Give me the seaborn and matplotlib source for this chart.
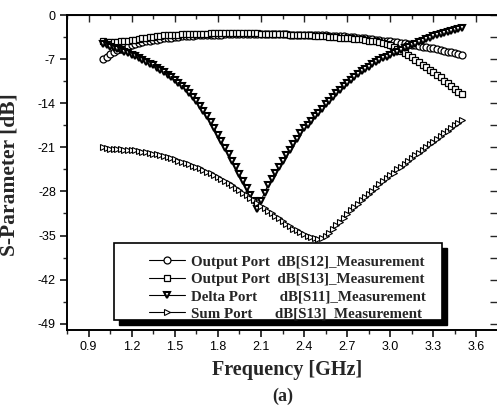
import numpy as np
import pandas as pd
import matplotlib
matplotlib.use("Agg")
import matplotlib.pyplot as plt
from matplotlib.patches import Rectangle
from matplotlib.ticker import MultipleLocator
import seaborn as sns

# frequency sweep of the measurement, 1.0 .. 3.5 GHz, 101 points
f_start, f_stop, n_pts = 1.0, 3.5, 101
freq = np.linspace(f_start, f_stop, n_pts)

# Output Port dB[S12]
s12_out = [-7.0, -6.6, -6.2, -5.9, -5.6, -5.35, -5.1, -4.9, -4.7, -4.55,
           -4.4, -4.3, -4.2, -4.1, -4.0, -3.9, -3.8, -3.7, -3.65, -3.6,
           -3.5, -3.45, -3.4, -3.35, -3.3, -3.3, -3.25, -3.2, -3.2, -3.15,
           -3.15, -3.1, -3.1, -3.1, -3.05, -3.05, -3.0, -3.0, -3.0, -3.0,
           -3.0, -3.0, -3.0, -3.0, -3.0, -3.0, -3.0, -3.0, -3.0, -3.05,
           -3.05, -3.05, -3.1, -3.1, -3.1, -3.1, -3.1, -3.15, -3.15, -3.2,
           -3.2, -3.25, -3.25, -3.3, -3.3, -3.35, -3.4, -3.4, -3.45, -3.5,
           -3.55, -3.6, -3.65, -3.7, -3.8, -3.85, -3.9, -4.0, -4.1, -4.15,
           -4.2, -4.3, -4.35, -4.45, -4.5, -4.6, -4.7, -4.8, -4.9, -5.0,
           -5.1, -5.2, -5.3, -5.4, -5.55, -5.65, -5.8, -5.9, -6.05, -6.15,
           -6.3]

# Output Port dB[S13]
s13_out = [-4.2, -4.3, -4.35, -4.3, -4.3, -4.2, -4.15, -4.1, -4.0, -3.9,
           -3.8, -3.7, -3.6, -3.5, -3.45, -3.4, -3.3, -3.25, -3.2, -3.15,
           -3.1, -3.1, -3.05, -3.05, -3.0, -3.0, -3.0, -2.95, -2.95, -2.95,
           -2.9, -2.9, -2.9, -2.9, -2.9, -2.9, -2.9, -2.9, -2.9, -2.9,
           -2.9, -2.9, -2.9, -2.9, -2.95, -2.95, -2.95, -3.0, -3.0, -3.0,
           -3.05, -3.05, -3.1, -3.1, -3.15, -3.15, -3.2, -3.2, -3.25, -3.3,
           -3.3, -3.35, -3.4, -3.45, -3.5, -3.55, -3.6, -3.65, -3.7, -3.72,
           -3.75, -3.8, -3.85, -3.95, -4.05, -4.1, -4.2, -4.35, -4.5, -4.65,
           -4.8, -5.1, -5.4, -5.7, -6.0, -6.35, -6.7, -7.1, -7.5, -7.9,
           -8.3, -8.7, -9.1, -9.5, -9.9, -10.4, -10.8, -11.3, -11.7, -12.2,
           -12.6]

# Delta Port dB[S11]
s11_delta = [-4.6, -4.8, -5.0, -5.2, -5.4, -5.6, -5.8, -6.05, -6.3, -6.55,
             -6.8, -7.1, -7.4, -7.7, -8.0, -8.35, -8.7, -9.1, -9.5, -9.9,
             -10.3, -10.8, -11.3, -11.8, -12.4, -13.0, -13.7, -14.4, -15.2, -16.1,
             -17.0, -18.0, -19.0, -20.0, -21.1, -22.1, -23.2, -24.2, -25.3, -26.3,
             -27.4, -28.5, -29.6, -30.8, -29.5, -28.2, -27.0, -26.0, -25.0, -24.1,
             -23.2, -22.3, -21.4, -20.5, -19.7, -18.8, -18.0, -17.4, -16.8, -16.1,
             -15.5, -14.9, -14.2, -13.6, -13.0, -12.4, -11.9, -11.3, -10.8, -10.3,
             -9.8, -9.4, -8.9, -8.5, -8.2, -7.8, -7.5, -7.2, -6.9, -6.6,
             -6.4, -6.1, -5.8, -5.6, -5.3, -5.05, -4.8, -4.55, -4.3, -4.1,
             -3.85, -3.6, -3.4, -3.2, -3.0, -2.85, -2.7, -2.55, -2.4, -2.25,
             -2.1]

# Sum Port dB[S13]
s13_sum = [-21.0, -21.1, -21.2, -21.2, -21.3, -21.3, -21.4, -21.4, -21.5, -21.5,
           -21.6, -21.7, -21.8, -21.9, -22.0, -22.1, -22.25, -22.4, -22.55, -22.75,
           -22.9, -23.1, -23.3, -23.5, -23.7, -23.9, -24.1, -24.3, -24.6, -24.9,
           -25.1, -25.4, -25.7, -26.0, -26.3, -26.7, -27.0, -27.4, -27.8, -28.2,
           -28.6, -29.0, -29.4, -29.8, -30.3, -30.7, -31.1, -31.5, -31.9, -32.3,
           -32.7, -33.1, -33.5, -33.9, -34.2, -34.5, -34.8, -35.1, -35.3, -35.45,
           -35.5, -35.4, -35.1, -34.6, -34.0, -33.4, -32.8, -32.2, -31.6, -31.0,
           -30.5, -30.0, -29.4, -28.9, -28.4, -27.9, -27.4, -26.9, -26.4, -25.9,
           -25.4, -25.0, -24.5, -24.1, -23.6, -23.2, -22.7, -22.3, -21.9, -21.5,
           -20.9, -20.5, -20.1, -19.7, -19.2, -18.8, -18.4, -17.9, -17.5, -17.1,
           -16.7]

labels = ["Output Port  dB[S12]_Measurement",
          "Output Port  dB[S13]_Measurement",
          "Delta Port      dB[S11]_Measurement",
          "Sum Port      dB[S13]_Measurement"]
x_ticks = [0.9, 1.2, 1.5, 1.8, 2.1, 2.4, 2.7, 3.0, 3.3, 3.6]
y_ticks = [0, -7, -14, -21, -28, -35, -42, -49]

df = pd.DataFrame({"freq": freq, "s12_out": s12_out, "s13_out": s13_out,
                   "s11_delta": s11_delta, "s13_sum": s13_sum})

sns.set_style("ticks")
plt.rcParams["font.family"] = ["Liberation Sans", "DejaVu Sans"]
serif = ["Liberation Serif", "DejaVu Serif"]

W, H = 497, 419
fig = plt.figure(figsize=(W / 100, H / 100), dpi=100)
L, R, T, B = 67, 498, 15, 330
ax = fig.add_axes([L / W, 1 - B / H, (R - L) / W, (B - T) / H])

styles = [("s12_out", "o", 0.9), ("s13_out", "s", 0.9),
          ("s11_delta", "v", 1.5), ("s13_sum", ">", 0.8)]
for (col, mk, mew), lab in zip(styles, labels):
    sns.lineplot(data=df, x="freq", y=col, ax=ax, color="black", lw=0.8,
                 marker=mk, markersize=5, markerfacecolor="white",
                 markeredgecolor="black", markeredgewidth=mew, label=lab,
                 zorder=2)

ax.set_xlim(0.75, 3.75)
ax.set_ylim(-50, 0)
ax.set_xticks(x_ticks)
ax.set_xticklabels([f"{v:.1f}" for v in x_ticks])
ax.set_yticks(y_ticks)
ax.set_yticklabels([str(v) for v in y_ticks])
ax.xaxis.set_minor_locator(MultipleLocator(0.15))
ax.yaxis.set_minor_locator(MultipleLocator(3.5))
ax.tick_params(which="major", direction="out", length=5, width=1.1,
               labelsize=9, pad=3, colors="black")
ax.tick_params(which="minor", direction="out", length=3, width=1.0)
for sp in ax.spines.values():
    sp.set_linewidth(1.4)
    sp.set_color("black")

# inward ticks on top and right like the original Origin plot
top = ax.secondary_xaxis("top")
top.set_xticks(x_ticks)
top.xaxis.set_minor_locator(MultipleLocator(0.15))
top.tick_params(which="both", direction="in", labeltop=False, width=1.0)
top.tick_params(which="major", length=5)
top.tick_params(which="minor", length=3)
right = ax.secondary_yaxis("right")
right.set_yticks(y_ticks)
right.yaxis.set_minor_locator(MultipleLocator(3.5))
right.tick_params(which="both", direction="in", labelright=False, width=1.0, length=6)

ax.set_xlabel("Frequency [GHz]", fontsize=14.5, fontweight="bold", family=serif)
ax.set_ylabel("S-Parameter [dB]", fontsize=15.5, fontweight="bold", family=serif)
ax.xaxis.label.set_va("center")
ax.xaxis.set_label_coords((287 - L) / (R - L), (B - 370) / (B - T))
ax.yaxis.set_label_coords((20 - L) / (R - L), (B - 175) / (B - T))
fig.text(283 / W, 1 - 396 / H, "(a)", ha="center", va="center",
         fontsize=13, fontweight="bold", family=serif)

# legend: framed box with black drop shadow
def axx(px):
    return (px - L) / (R - L)

def axy(py):
    return (B - py) / (B - T)

bx0, bx1, by0, by1 = 114, 442, 243, 320
sh = 5
ax.add_patch(Rectangle((axx(bx0 + sh), axy(by1 + sh)), axx(bx1) - axx(bx0),
                       axy(by0) - axy(by1), transform=ax.transAxes,
                       facecolor="black", edgecolor="black", zorder=3.8,
                       clip_on=False))
ax.add_patch(Rectangle((axx(bx0), axy(by1)), axx(bx1) - axx(bx0),
                       axy(by0) - axy(by1), transform=ax.transAxes,
                       facecolor="white", edgecolor="black", lw=1.2,
                       zorder=3.9))
leg = ax.legend(loc="upper left", bbox_to_anchor=(axx(149), axy(255)),
                frameon=False, borderpad=0, borderaxespad=0,
                handlelength=2.4, handletextpad=0.4, labelspacing=0.26,
                prop={"family": serif, "weight": "bold", "size": 10.8})
leg.set_zorder(5)

fig.savefig("out.png", dpi=100)
